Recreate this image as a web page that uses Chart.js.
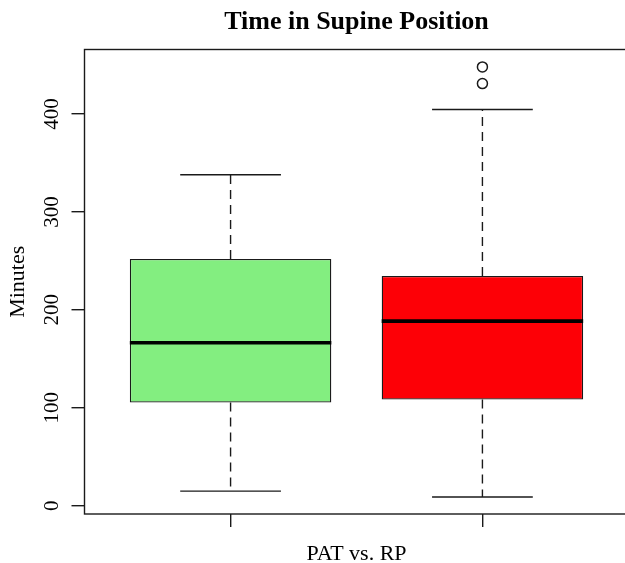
<!DOCTYPE html>
<html>
<head>
<meta charset="utf-8">
<script src="https://cdn.jsdelivr.net/npm/chart.js@4"></script>
<style>
  html, body { margin: 0; padding: 0; background: #fff; overflow: hidden; width: 625px; height: 563px; }
  canvas { display: block; }
</style>
</head>
<body>
<canvas id="boxChart" width="640" height="570"></canvas>
<script>
// Данные боксплота (минуты)
const categories = ["PAT", "RP"];
const whiskerLow = [15, 9];
const q1 = [105.5, 108.5];
const median = [166.5, 188.5];
const q3 = [252, 234.5];
const whiskerHigh = [338, 404.5];
const outliers = [[], [431, 448]];
const boxColors = ["#83EE80", "#FD0006"];
const yTicks = [0, 100, 200, 300, 400];
const xTicks = [1, 2];

const serif = "'Liberation Serif', 'Times New Roman', serif";
const ink = "#1a1a1a";

// Горизонтальный или вертикальный отрезок как набор данных
function segment(x1, y1, x2, y2, width, dash, color) {
    return {
        type: "line",
        data: [{x: x1, y: y1}, {x: x2, y: y2}],
        borderColor: color || ink,
        borderWidth: width,
        borderDash: dash || [],
        pointRadius: 0,
        fill: false,
        order: 1
    };
}

const datasets = [];
categories.forEach(function(c, i) {
    const x = i + 1;
    datasets.push(segment(x - 0.4, median[i], x + 0.4, median[i], 3.6, null, "#000"));
    datasets.push(segment(x, q3[i], x, whiskerHigh[i], 1.4, [9, 6]));
    datasets.push(segment(x, q1[i], x, whiskerLow[i], 1.4, [9, 6]));
    datasets.push(segment(x - 0.2, whiskerHigh[i], x + 0.2, whiskerHigh[i], 1.4));
    datasets.push(segment(x - 0.2, whiskerLow[i], x + 0.2, whiskerLow[i], 1.4));
});

datasets.push({
    type: "line",
    data: outliers.flatMap(function(list, i) {
        return list.map(function(v) { return {x: i + 1, y: v}; });
    }),
    showLine: false,
    pointStyle: "circle",
    pointRadius: 5,
    pointBorderWidth: 1.5,
    pointBorderColor: ink,
    pointBackgroundColor: "rgba(0,0,0,0)",
    order: 1
});

datasets.push({
    type: "bar",
    label: "Minutes",
    data: categories.map(function(c, i) { return {x: i + 1, y: [q1[i], q3[i]]}; }),
    backgroundColor: boxColors,
    borderColor: ink,
    borderWidth: 1.3,
    borderSkipped: false,
    barPercentage: 0.8,
    categoryPercentage: 1,
    order: 2
});

// Рамка вокруг области графика
const frame = {
    id: "frame",
    afterDraw: function(chart) {
        const a = chart.chartArea;
        const ctx = chart.ctx;
        ctx.save();
        ctx.strokeStyle = ink;
        ctx.lineWidth = 1.4;
        ctx.strokeRect(a.left, a.top, a.right - a.left, a.bottom - a.top);
        ctx.restore();
    }
};

new Chart(document.getElementById("boxChart").getContext("2d"), {
    type: "bar",
    data: { datasets: datasets },
    plugins: [frame],
    options: {
        responsive: false,
        animation: false,
        layout: { padding: { left: 0, right: 11.5, top: 0, bottom: 0 } },
        plugins: {
            legend: { display: false },
            tooltip: { enabled: false },
            title: {
                display: true,
                text: "Time in Supine Position",
                fullSize: false,
                color: "#000",
                font: { family: serif, size: 26, weight: "bold", lineHeight: 1.2 },
                padding: { top: 6.6, bottom: 11.7 }
            }
        },
        scales: {
            x: {
                type: "linear",
                min: 0.42,
                max: 2.58,
                offset: false,
                afterBuildTicks: function(scale) {
                    scale.ticks = xTicks.map(function(v) { return {value: v}; });
                },
                afterFit: function(scale) { scale.height = 56; },
                ticks: { display: false },
                grid: { offset: false, drawOnChartArea: false, drawTicks: true, tickLength: 13, color: ink, lineWidth: 1.4 },
                border: { display: false },
                title: {
                    display: true,
                    text: "PAT vs. RP",
                    color: "#000",
                    font: { family: serif, size: 22, lineHeight: 1.2 },
                    padding: { top: 0, bottom: 2.8 }
                }
            },
            y: {
                type: "linear",
                min: -8.4,
                max: 465.8,
                afterBuildTicks: function(scale) {
                    scale.ticks = yTicks.map(function(v) { return {value: v}; });
                },
                afterFit: function(scale) { scale.width = 84.5; },
                ticks: {
                    color: "#000",
                    font: { family: serif, size: 21 },
                    minRotation: 90,
                    maxRotation: 90,
                    crossAlign: "center",
                    padding: 3,
                    autoSkip: false
                },
                grid: { drawOnChartArea: false, drawTicks: true, tickLength: 13, color: ink, lineWidth: 1.4 },
                border: { display: false },
                title: {
                    display: true,
                    text: "Minutes",
                    color: "#000",
                    font: { family: serif, size: 22, lineHeight: 1.2 },
                    padding: { top: 5, bottom: 0 }
                }
            }
        }
    }
});
</script>
</body>
</html>
